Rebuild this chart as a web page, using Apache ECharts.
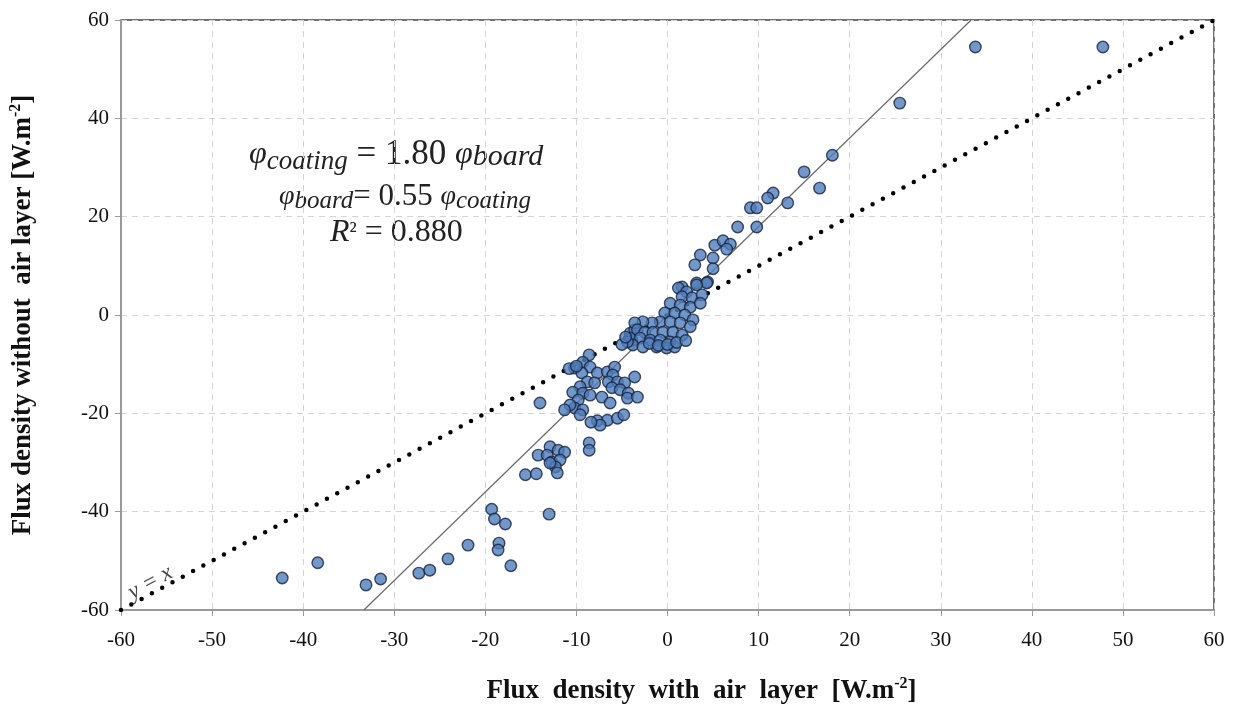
<!DOCTYPE html>
<html><head><meta charset="utf-8">
<script src="https://cdn.jsdelivr.net/npm/echarts@6/dist/echarts.min.js"></script>
<style>html,body{margin:0;padding:0;background:#fff}#c{width:1237px;height:708px}</style>
</head><body><div id="c"></div>
<script>
// Flux density with air layer (x) vs without air layer (y), W.m-2
const fluxWith = [
-42.3,-38.4,-33.1,-31.5,-27.3,-26.1,-24.1,-21.9,-19.3,-19.0,-17.8,-18.5,-18.6,-17.2,-13.0,
-12.9,-14.2,-13.2,-12.0,-11.3,-12.7,-11.8,-12.3,-12.9,-12.1,-15.6,-14.4,
-14.0,
-8.6,-9.3,-10.2,-8.5,-9.4,-7.7,-8.8,-9.6,-8.0,-10.4,-9.3,-8.5,-7.2,-9.8,-10.2,-9.3,-6.3,-9.6,
-6.6,-5.8,-6.0,-6.5,-5.5,-4.7,-6.1,-5.2,-4.3,-4.4,-3.6,-3.3,-4.1,-3.6,-3.9,
-8.6,-8.6,-7.7,-6.6,-5.5,-4.8,-7.4,-8.4,-10.7,-11.3,-10.8,-10.0,
33.8,47.8,25.5,18.1,15.0,16.7,11.6,11.0,13.2,9.1,9.8,7.7,9.8,5.2,6.1,6.9,6.5,3.6,3.0,5.0,5.0,
1.6,3.2,4.4,4.3,1.2,2.1,3.2,1.6,2.7,3.8,0.3,1.4,2.5,3.6,-0.3,0.8,1.9,2.8,
-0.8,0.3,1.4,2.5,-1.7,-2.7,-3.6,-3.3,-2.5,-1.6,-0.5,0.6,1.6,-4.1,-3.0,-1.9,-0.8,0.3,
-3.8,-2.7,-1.2,-0.1,0.8,-4.4,-2.0,-1.0,0.0,1.0,2.0,-5.0,-4.6
];
const fluxWithout = [
-53.5,-50.4,-54.9,-53.7,-52.5,-51.9,-49.6,-46.8,-39.5,-41.5,-42.5,-46.4,-47.8,-51.0,-40.5,
-26.8,-28.5,-28.5,-27.5,-27.9,-29.9,-29.5,-30.9,-30.1,-32.1,-32.5,-32.3,
-17.9,
-8.1,-9.6,-10.8,-10.6,-11.8,-11.8,-13.6,-14.6,-13.8,-15.7,-15.9,-16.3,-16.7,-17.3,-18.9,-19.3,-17.9,-20.3,
-11.6,-10.6,-12.2,-13.6,-13.6,-13.8,-14.8,-15.2,-15.9,-16.9,-12.6,-16.7,-3.7,-3.0,-5.1,
-26.0,-27.5,-21.5,-21.4,-21.0,-20.3,-22.4,-21.8,-18.3,-19.3,-10.9,-10.4,
54.5,54.5,43.1,32.5,29.1,25.8,24.8,23.8,22.8,21.8,21.8,17.9,17.9,14.2,15.1,14.4,13.4,12.2,10.2,11.6,9.4,
5.7,6.5,6.7,6.5,5.5,4.7,6.1,3.7,3.5,4.1,2.4,2.0,1.6,2.4,0.4,0.4,0.0,-1.0,
-1.4,-1.4,-1.6,-2.4,-1.6,-1.4,-1.6,-3.0,-3.5,-3.5,-3.5,-3.5,-4.1,-4.7,-4.7,-5.1,-5.1,-5.5,
-6.1,-6.5,-6.5,-6.7,-6.5,-5.5,-5.8,-6.2,-6.0,-5.6,-5.2,-6.0,-4.5
];
const identityLine = [[-60,-60],[60,60]];
const fitSlope = 1.80;
const fitLine = [[-60/fitSlope,-60],[60/fitSlope,60]];
const xTicks = [-60,-50,-40,-30,-20,-10,0,10,20,30,40,50,60];
const yTicks = [-60,-40,-20,0,20,40,60];

const points = fluxWith.map((x,i)=>[x,fluxWithout[i]]);
const serif = '"Liberation Serif", "DejaVu Serif", serif';
const titleRich = {t:{fontFamily:serif,fontSize:27,fontWeight:'bold',color:'#111'},
                   s:{fontFamily:serif,fontSize:16,fontWeight:'bold',color:'#111',padding:[0,0,15,0]}};
const chart = echarts.init(document.getElementById('c'));
chart.setOption({
  animation:false,
  backgroundColor:'#fff',
  grid:{left:121,right:23,top:20,bottom:98,show:true,borderColor:'#444',borderWidth:1.5,
        containLabel:false,outerBoundsMode:'none'},
  xAxis:{type:'value',min:-60,max:60,interval:10,
    axisLine:{show:true,onZero:false,lineStyle:{color:'#9a9a9a',width:2}},
    axisTick:{show:true,length:6,lineStyle:{color:'#9a9a9a'}},
    axisLabel:{color:'#111',fontFamily:serif,fontSize:21,margin:20},
    splitLine:{show:true,lineStyle:{color:'#d4d4d4',type:[6,5]}},
    name:'{t|Flux  density  with  air  layer  [W.m}{s|-2}{t|]}',nameLocation:'middle',nameGap:66,
    nameTextStyle:{rich:titleRich,padding:[0,0,0,68]}
  },
  yAxis:{type:'value',min:-60,max:60,interval:20,
    axisLine:{show:true,onZero:false,lineStyle:{color:'#9a9a9a',width:2}},
    axisTick:{show:true,length:6,lineStyle:{color:'#9a9a9a'}},
    axisLabel:{color:'#111',fontFamily:serif,fontSize:21,margin:12},
    splitLine:{show:true,lineStyle:{color:'#d4d4d4',type:[6,5]}},
    name:'{t|Flux density without  air layer [W.m}{s|-2}{t|]}',nameLocation:'middle',nameGap:82,
    nameTextStyle:{rich:titleRich}
  },
  series:[
    {type:'line',data:identityLine,symbol:'none',silent:true,z:1,
      lineStyle:{color:'#000',width:4.5,type:[0,11.7],cap:'round'}},
    {type:'line',data:fitLine,symbol:'none',silent:true,z:2,
      lineStyle:{color:'#6a6a6a',width:1.2}},
    {type:'scatter',data:points,symbol:'circle',symbolSize:11.5,z:3,
      itemStyle:{color:'#4f7dbd',borderColor:'#17233a',borderWidth:1.4}}
  ],
  graphic:[
    {type:'text',left:249,top:137,style:{
      text:'{p|φ}{s|coating}{e| = 1.80 }{p|φ}{b|board}',
      rich:{p:{fontFamily:serif,fontStyle:'italic',fontSize:32,fill:'#222'},
            s:{fontFamily:serif,fontStyle:'italic',fontSize:27,fill:'#222',padding:[14,0,0,0]},
            b:{fontFamily:serif,fontStyle:'italic',fontSize:30,fill:'#222',padding:[6,0,0,0]},
            e:{fontFamily:serif,fontSize:35,fill:'#222'}}}},
    {type:'text',left:279,top:181,style:{
      text:'{p|φ}{s|board}{e|= 0.55 }{p|φ}{b|coating}',
      rich:{p:{fontFamily:serif,fontStyle:'italic',fontSize:28,fill:'#222'},
            s:{fontFamily:serif,fontStyle:'italic',fontSize:25,fill:'#222',padding:[10,0,0,0]},
            b:{fontFamily:serif,fontStyle:'italic',fontSize:25,fill:'#222',padding:[10,0,0,0]},
            e:{fontFamily:serif,fontSize:31,fill:'#222'}}}},
    {type:'text',left:330,top:217,style:{
      text:'{r|R}{q|²}{e| = 0.880}',
      rich:{r:{fontFamily:serif,fontStyle:'italic',fontSize:32,fill:'#222'},
            q:{fontFamily:serif,fontSize:24,fill:'#222'},
            e:{fontFamily:serif,fontSize:32,fill:'#222'}}}},
    {type:'text',x:124,y:584,rotation:0.50,style:{text:'y = x',fontFamily:serif,fontStyle:'italic',fontSize:23,fill:'#444'}}
  ]
});
</script></body></html>
